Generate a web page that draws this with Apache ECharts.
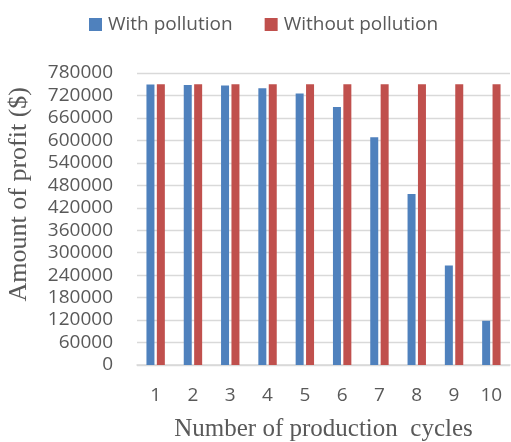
<!DOCTYPE html>
<html>
<head>
<meta charset="utf-8">
<script src="https://cdn.jsdelivr.net/npm/echarts@6/dist/echarts.min.js"></script>
<style>
  html, body { margin: 0; padding: 0; background: #fff; }
  #chart { width: 511px; height: 442px; }
</style>
</head>
<body>
<div id="chart"></div>
<script>
// Profit per number of production cycles, with and without pollution
const cycles = ['1', '2', '3', '4', '5', '6', '7', '8', '9', '10'];
const withPollution = [749500, 748200, 746300, 739200, 725000, 689500, 608600, 456700, 265700, 118100];
const withoutPollution = [750000, 750000, 750000, 750000, 750000, 750000, 750000, 750000, 750000, 750000];
const seriesNames = ['With pollution', 'Without pollution'];

const chart = echarts.init(document.getElementById('chart'));
const sansFont = '"Open Sans", "Noto Sans", sans-serif';
const serifFont = '"Liberation Serif", "DejaVu Serif", serif';

chart.setOption({
  animation: false,
  color: ['#4F81BD', '#C0504D'],
  legend: {
    data: seriesNames,
    top: 10,
    left: 84,
    icon: 'rect',
    itemWidth: 13,
    itemHeight: 13,
    itemGap: 32,
    textStyle: { fontFamily: sansFont, fontSize: 19, color: '#595959', padding: [0, 0, 0, 1] }
  },
  grid: { left: 137, right: 1, top: 73, bottom: 77, containLabel: false, outerBoundsMode: 'none' },
  xAxis: {
    type: 'category',
    data: cycles,
    axisTick: { show: false },
    axisLine: { lineStyle: { color: '#d9d9d9', width: 1.5 } },
    axisLabel: { fontFamily: sansFont, fontSize: 19, color: '#595959', margin: 21 },
    name: 'Number of production  cycles',
    nameLocation: 'middle',
    nameGap: 52,
    nameTextStyle: { fontFamily: serifFont, fontSize: 25, color: '#595959' }
  },
  yAxis: {
    type: 'value',
    min: 0,
    max: 780000,
    interval: 60000,
    axisLine: { show: false },
    axisTick: { show: false },
    splitLine: { lineStyle: { color: '#d9d9d9', width: 1.3 } },
    axisLabel: {
      fontFamily: sansFont, fontSize: 19, color: '#595959', margin: 24,
      formatter: function (v) { return String(v); }
    }
  },
  graphic: [{
    type: 'text',
    left: 6,
    top: 87,
    rotation: Math.PI / 2,
    style: {
      text: 'Amount of profit ($)',
      font: '26px ' + serifFont,
      fill: '#595959'
    }
  }],
  series: [
    { name: seriesNames[0], type: 'bar', data: withPollution, barWidth: 8, barGap: '30%' },
    { name: seriesNames[1], type: 'bar', data: withoutPollution, barWidth: 8, barGap: '30%' }
  ]
});
</script>
</body>
</html>
